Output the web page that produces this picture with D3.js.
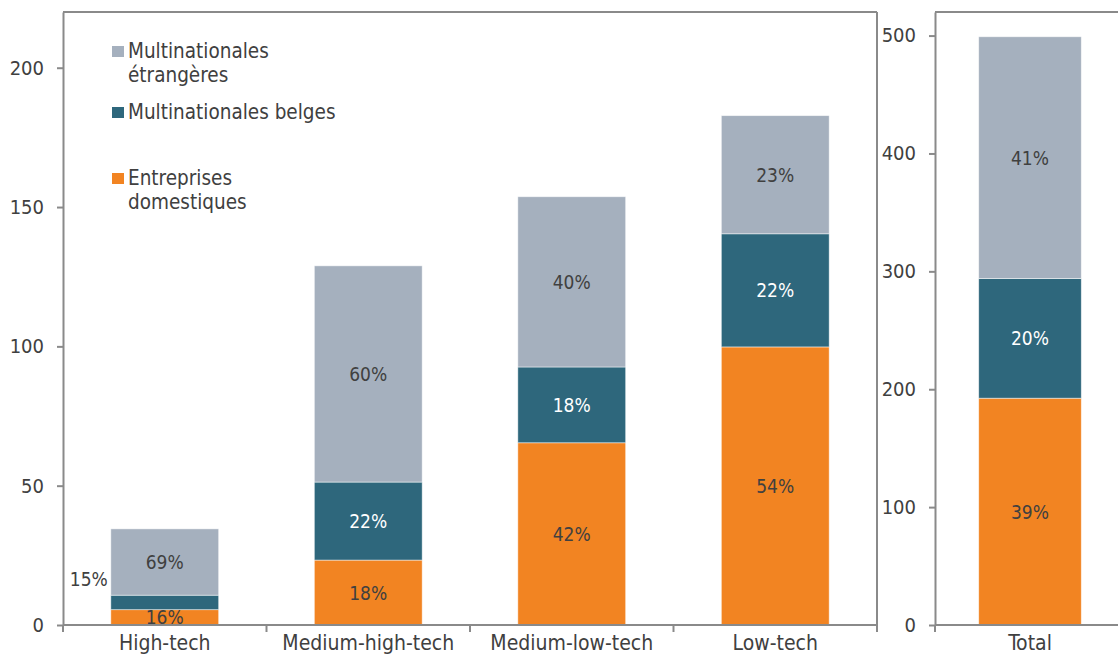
<!DOCTYPE html>
<html>
<head>
<meta charset="utf-8">
<script src="https://cdn.jsdelivr.net/npm/d3@7/dist/d3.min.js"></script>
<style>
  html, body { margin: 0; padding: 0; background: #ffffff; }
  svg { display: block; }
  text { font-family: "DejaVu Sans Condensed", "DejaVu Sans", sans-serif; font-stretch: condensed; fill: #404040; }
</style>
</head>
<body>
<svg id="chart" width="1118" height="655"></svg>
<script>
// ---- Data ----
const categories = ["High-tech", "Medium-high-tech", "Medium-low-tech", "Low-tech"];
const domestiques = [5.5, 23.3, 65.4, 99.8];
const belges = [5.2, 28.0, 27.2, 40.6];
const etrangeres = [23.8, 77.6, 61.1, 42.4];
const domestiquesPct = ["16%", "18%", "42%", "54%"];
const belgesPct = ["15%", "22%", "18%", "22%"];
const etrangeresPct = ["69%", "60%", "40%", "23%"];

const totalCategory = ["Total"];
const totalDomestiques = [192.4];
const totalBelges = [101.6];
const totalEtrangeres = [205.0];
const totalDomestiquesPct = ["39%"];
const totalBelgesPct = ["20%"];
const totalEtrangeresPct = ["41%"];

const leftTicks = [0, 50, 100, 150, 200];
const rightTicks = [0, 100, 200, 300, 400, 500];

const legendLines = [["Multinationales", "étrangères"], ["Multinationales belges"], ["Entreprises", "domestiques"]];
const colors = { dom: "#F28422", bel: "#2E677C", etr: "#A5B0BE" };
const axisColor = "#8a8a8a";
const textColor = "#404040";

const svg = d3.select("#chart");

function buildRows(cats, d, b, e, dp, bp, ep) {
  return cats.map((c, i) => ({ cat: c, dom: d[i], bel: b[i], etr: e[i], domP: dp[i], belP: bp[i], etrP: ep[i] }));
}
const leftRows = buildRows(categories, domestiques, belges, etrangeres, domestiquesPct, belgesPct, etrangeresPct);
const rightRows = buildRows(totalCategory, totalDomestiques, totalBelges, totalEtrangeres, totalDomestiquesPct, totalBelgesPct, totalEtrangeresPct);

const stack = d3.stack().keys(["dom", "bel", "etr"]);

function drawPanel(rows, x, y, ticks, opts) {
  const g = svg.append("g");
  const [x0] = x.range();
  const [yb, yt] = y.range();

  // frame (top and right)
  g.append("line").attr("x1", x0).attr("x2", opts.frameRight).attr("y1", yt).attr("y2", yt)
    .attr("stroke", axisColor).attr("stroke-width", 2);
  if (opts.drawRight) {
    g.append("line").attr("x1", opts.frameRight).attr("x2", opts.frameRight).attr("y1", yt).attr("y2", yb + 7)
      .attr("stroke", axisColor).attr("stroke-width", 2);
  }

  const series = stack(rows);
  const labelKey = { dom: "domP", bel: "belP", etr: "etrP" };
  series.forEach(s => {
    g.append("g").selectAll("rect").data(s).join("rect")
      .attr("x", d => x(d.data.cat))
      .attr("width", x.bandwidth())
      .attr("y", d => y(d[1]))
      .attr("height", d => y(d[0]) - y(d[1]))
      .attr("fill", colors[s.key])
      .attr("stroke", "#ffffff").attr("stroke-width", 0.8).attr("stroke-opacity", 0.6);
  });

  // labels
  const isSmall = (d, key) => key === "bel" && (y(d[0]) - y(d[1])) < 18;
  series.forEach(s => {
    g.append("g").selectAll("text").data(s).join("text")
      .attr("x", d => isSmall(d, s.key) ? x(d.data.cat) - 3 : x(d.data.cat) + x.bandwidth() / 2)
      .attr("y", d => isSmall(d, s.key) ? y(d[1]) - 16 : (y(d[0]) + y(d[1])) / 2)
      .attr("text-anchor", d => isSmall(d, s.key) ? "end" : "middle")
      .attr("dominant-baseline", "central")
      .style("font-size", "19px")
      .style("fill", d => (s.key === "bel" && !isSmall(d, s.key)) ? "#ffffff" : textColor)
      .text(d => d.data[labelKey[s.key]]);
  });

  // y axis
  const ya = g.append("g").attr("transform", `translate(${x0},0)`)
    .call(d3.axisLeft(y).tickValues(ticks).tickSize(6).tickPadding(13).tickSizeOuter(0));
  ya.select(".domain").attr("stroke", axisColor).attr("stroke-width", 2);
  ya.selectAll(".tick line").attr("stroke", axisColor).attr("stroke-width", 2);
  ya.selectAll(".tick text").style("font-size", "20px").style("fill", textColor)
    .style("font-family", "'DejaVu Sans Condensed', 'DejaVu Sans', sans-serif");

  // x axis
  const xa = g.append("g").attr("transform", `translate(0,${yb})`)
    .call(d3.axisBottom(x).tickSize(0).tickPadding(10).tickSizeOuter(0));
  xa.select(".domain").remove();
  g.append("line").attr("x1", x0).attr("x2", opts.frameRight).attr("y1", yb).attr("y2", yb)
    .attr("stroke", axisColor).attr("stroke-width", 2);
  xa.selectAll(".tick text").style("font-size", "21px").style("fill", textColor)
    .style("font-family", "'DejaVu Sans Condensed', 'DejaVu Sans', sans-serif");

  // boundary ticks
  const gap = x.step() - x.bandwidth();
  const bounds = [x0].concat(x.domain().map(c => x(c) + x.bandwidth() + gap / 2));
  g.append("g").selectAll("line").data(bounds).join("line")
    .attr("x1", d => d).attr("x2", d => d).attr("y1", yb).attr("y2", yb + 7)
    .attr("stroke", axisColor).attr("stroke-width", 2);
}

// Left panel
const xL = d3.scaleBand().domain(categories).range([63, 877]).paddingInner(0.47).paddingOuter(0.235);
const yL = d3.scaleLinear().domain([0, 220]).range([625, 12]);
drawPanel(leftRows, xL, yL, leftTicks, { frameRight: 877, drawRight: true });

// Right panel
const xR = d3.scaleBand().domain(totalCategory).range([935, 1125]).paddingInner(0.46).paddingOuter(0.23);
const yR = d3.scaleLinear().domain([0, 520]).range([625, 12]);
drawPanel(rightRows, xR, yR, rightTicks, { frameRight: 1125, drawRight: false });

// Legend
const legendColors = [colors.etr, colors.bel, colors.dom];
const legendTop = [58, 119, 185];
const lg = svg.append("g");
legendLines.forEach((lines, i) => {
  lg.append("rect").attr("x", 112).attr("y", legendTop[i] - 12).attr("width", 12).attr("height", 11)
    .attr("fill", legendColors[i]);
  const t = lg.append("text").attr("x", 128).attr("y", legendTop[i]).style("font-size", "20.5px");
  lines.forEach((ln, j) => {
    t.append("tspan").attr("x", 128).attr("dy", j === 0 ? 0 : 24).text(ln);
  });
});
</script>
</body>
</html>
